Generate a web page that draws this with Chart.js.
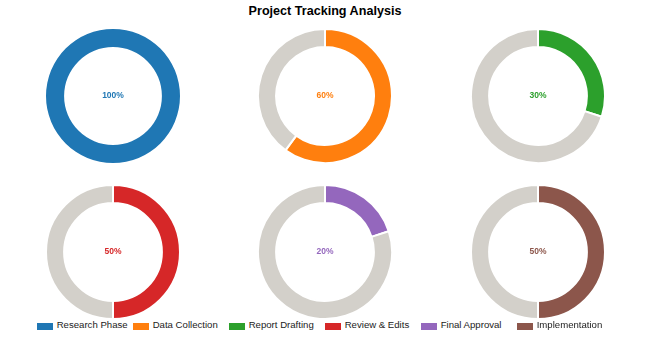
<!DOCTYPE html>
<html>
<head>
<meta charset="utf-8">
<script src="https://cdn.jsdelivr.net/npm/chart.js@4.4.1/dist/chart.umd.min.js"></script>
<style>
  html, body { margin: 0; padding: 0; background: #fff; }
  #wrap { position: relative; width: 650px; height: 343px; overflow: hidden;
          font-family: 'Liberation Sans', Arial, sans-serif; }
  #title { position: absolute; left: 0; top: 3px; width: 650px; text-align: center;
           font-weight: bold; font-size: 12.6px; line-height: 16px; color: #000; }
  .donut { position: absolute; }
  .item { position: absolute; top: 317px; height: 16px; white-space: nowrap;
          font-size: 9.6px; line-height: 16px; color: #222; }
  .swatch { position: absolute; left: 0; top: 5.5px; width: 16px; height: 7.5px; }
  .label { position: absolute; left: 20px; top: 0; }
</style>
</head>
<body>
<div id="wrap">
  <div id="title">Project Tracking Analysis</div>
</div>
<script>
const phases = ['Research Phase', 'Data Collection', 'Report Drafting', 'Review & Edits', 'Final Approval', 'Implementation'];
const progress = [100, 60, 30, 50, 20, 50];
const phaseColors = ['#1f77b4', '#ff7f0e', '#2ca02c', '#d62728', '#9467bd', '#8c564b'];
const remainderColor = '#d3d0ca';

const wrap = document.getElementById('wrap');
const SIZE = 136;
const colCenters = [113, 325, 538];
const rowCenters = [96, 252];

const centerLabel = {
  id: 'centerLabel',
  afterDraw(chart) {
    const arc = chart.getDatasetMeta(0).data[0];
    if (!arc) return;
    const { ctx } = chart;
    const opts = chart.options.plugins.centerLabel;
    ctx.save();
    ctx.textAlign = 'center';
    ctx.textBaseline = 'middle';
    ctx.fillStyle = opts.color;
    ctx.font = "bold 8.5px 'Liberation Sans', Arial, sans-serif";
    ctx.fillText(opts.text, arc.x, arc.y);
    ctx.restore();
  }
};

phases.forEach((name, i) => {
  const canvas = document.createElement('canvas');
  canvas.className = 'donut';
  canvas.width = SIZE;
  canvas.height = SIZE;
  canvas.style.left = (colCenters[i % 3] - SIZE / 2) + 'px';
  canvas.style.top = (rowCenters[Math.floor(i / 3)] - SIZE / 2) + 'px';
  wrap.appendChild(canvas);

  const done = progress[i];
  const full = done >= 100;
  new Chart(canvas, {
    type: 'doughnut',
    data: {
      labels: [name, 'Remaining'],
      datasets: [{
        data: [done, 100 - done],
        backgroundColor: [phaseColors[i], remainderColor],
        borderColor: full ? 'rgba(255,255,255,0)' : '#fff',
        borderWidth: 2,
        cutout: '73%'
      }]
    },
    options: {
      responsive: false,
      animation: false,
      layout: { padding: 0 },
      plugins: {
        legend: { display: false },
        tooltip: { enabled: false },
        centerLabel: { text: done + '%', color: phaseColors[i] }
      }
    },
    plugins: [centerLabel]
  });

  // legend entry
  const item = document.createElement('div');
  item.className = 'item';
  item.style.left = (36.7 + 96 * i) + 'px';
  const sw = document.createElement('div');
  sw.className = 'swatch';
  sw.style.background = phaseColors[i];
  const lb = document.createElement('span');
  lb.className = 'label';
  lb.textContent = name;
  item.appendChild(sw);
  item.appendChild(lb);
  wrap.appendChild(item);
});
</script>
</body>
</html>
